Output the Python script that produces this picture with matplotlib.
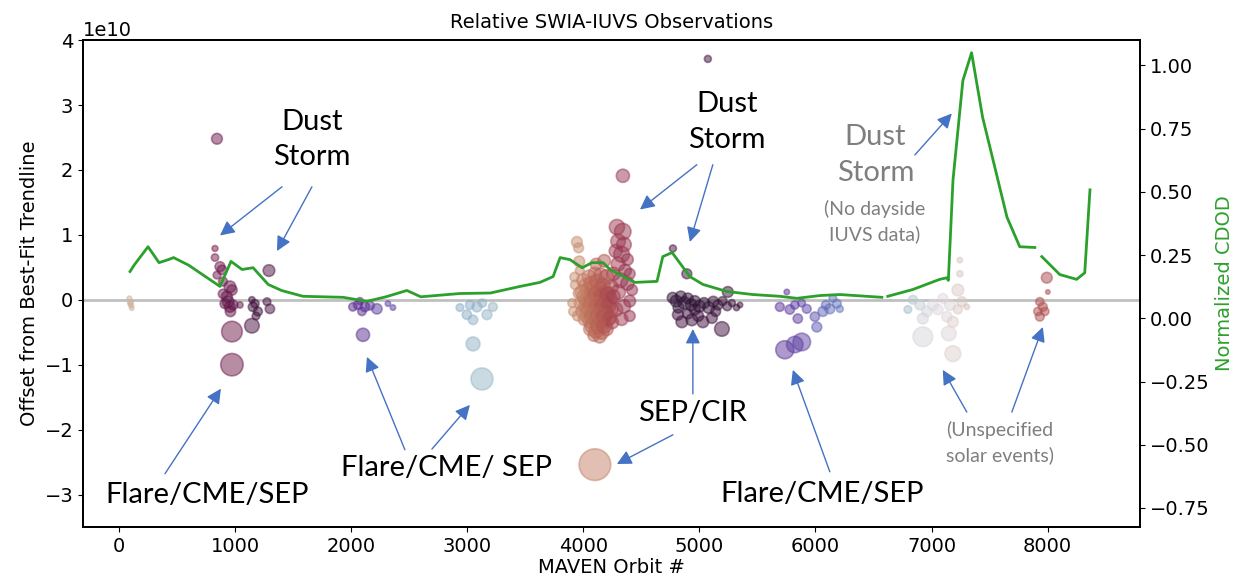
import numpy as np
import matplotlib.pyplot as plt

# normalized column dust optical depth vs orbit (NaN = data gap)
cdod_orbit = [95, 130, 250, 345, 425, 470, 600, 870, 965, 1060, 1155, 1285, 1400, 1585,
              1930, 2135, 2300, 2480, 2600, 2937, 3200, 3455, 3626, 3740, 3800, 3885,
              3990, 4075, 4170, 4230, 4445, 4635, 4685, 4765, 4918, 5030, 5237, 5460,
              5693, 5840, 6040, 6210, 6572, 6600, 6623, 6840, 7070, 7130, 7145, 7185,
              7270, 7345, 7440, 7530, 7650, 7760, 7890, 7920, 7950, 8105, 8250, 8320, 8365]
cdod_norm = [0.185, 0.21, 0.283, 0.22, 0.232, 0.24, 0.21, 0.126, 0.225, 0.193, 0.2, 0.134,
             0.11, 0.087, 0.083, 0.067, 0.085, 0.11, 0.085, 0.098, 0.1, 0.126, 0.142, 0.165,
             0.24, 0.232, 0.2, 0.22, 0.22, 0.193, 0.142, 0.146, 0.244, 0.26, 0.165, 0.134,
             0.106, 0.094, 0.087, 0.079, 0.09, 0.094, 0.083, np.nan, 0.087, 0.114, 0.154,
             0.16, 0.15, 0.547, 0.94, 1.05, 0.795, 0.626, 0.40, 0.283, 0.28, np.nan, 0.244,
             0.173, 0.154, 0.18, 0.508]

# SWIA-IUVS observations: orbit, offset (1e10), marker area, season (colormap position)
obs_orbit = [90, 100, 105, 110, 95,
             844, 827, 827, 870, 887, 844, 896, 956, 973, 896, 930, 940, 956, 913, 982, 960, 1042, 973, 973,
             1154, 1171, 1197, 1145, 1180, 1275, 1300, 1145, 1292,
             2015, 2058, 2093, 2119, 2162, 2222, 2075, 2317, 2360, 2102,
             2937, 2997, 3050, 3084, 3170, 3221, 3023, 3130, 3050, 3127,
             3945, 3960, 3965, 3925, 3930, 3905, 3915, 4341,
             4290, 4340, 4300, 4350, 4280, 4330, 4380, 4300, 4360, 4400, 4260, 4320, 4380, 4420,
             4240, 4300, 4400, 4350, 4280, 4400, 4330,
             4000, 4050, 4100, 4150, 4200, 3990, 4040, 4090, 4140, 4190,
             3980, 4030, 4080, 4130, 4180, 4230, 3990, 4040, 4090, 4140, 4190, 4240,
             4010, 4060, 4110, 4160, 4210, 4060, 4110, 4160, 4200, 4090, 4140,
             3970, 4110, 4180,
             4020, 4070, 4120, 4170, 4010, 4060, 4110, 4160, 4210, 4020, 4070, 4120, 4170, 4220,
             4030, 4080, 4130, 4180, 4230, 4080, 4130, 4180, 3960, 3950, 4260, 4250,
             4100,
             4772, 4892, 5245, 5073,
             4770, 4800, 4840, 4870, 4900, 4930, 4960, 5000, 5040, 5080, 5120, 5160, 5200, 5240,
             5280, 5320, 5350, 4820, 4960, 5140,
             4815, 4849, 4935, 5030, 5108, 5194, 4900, 4990,
             5753, 5693, 5779, 5848, 5822, 5925, 5995, 6012, 6064, 6124, 6184, 6150, 6210,
             5736, 5822, 5882, 6090, 5880,
             6796, 6840, 6900, 6960, 6925, 7012, 7055, 7098, 7132, 7158, 7184, 7227, 7261,
             7244, 7244, 7227, 6925, 7149, 7184, 7304,
             7993, 8002, 7933, 7959, 7916, 7933, 7976]
obs_offset = [0.02, -0.04, -0.09, -0.13, -0.06,
              2.48, 0.79, 0.65, 0.51, 0.46, 0.38, 0.28, 0.20, 0.15, 0.09, 0.05, -0.03, -0.11, -0.06,
              -0.08, -0.18, -0.08, -0.49, -1.00,
              -0.11, -0.06, -0.18, 0.00, -0.25, -0.03, -0.14, -0.40, 0.45,
              -0.11, -0.08, -0.18, -0.11, -0.09, -0.14, -0.02, -0.06, -0.12, -0.54,
              -0.12, -0.23, -0.31, -0.11, -0.23, -0.11, -0.08, -0.05, -0.68, -1.22,
              0.89, 0.80, 0.59, 0.35, 0.23, -0.05, -0.18, 1.91,
              1.12, 1.05, 0.90, 0.85, 0.75, 0.70, 0.62, 0.55, 0.45, 0.40, 0.40, 0.30, 0.25, 0.15,
              0.20, 0.12, -0.02, -0.10, -0.15, -0.25, -0.30,
              0.30, 0.35, 0.40, 0.38, 0.35, 0.12, 0.15, 0.18, 0.15, 0.10,
              -0.05, 0.00, -0.02, 0.02, -0.05, 0.00, -0.18, -0.15, -0.18, -0.15, -0.20, -0.15,
              -0.30, -0.32, -0.30, -0.32, -0.30, -0.45, -0.48, -0.50, -0.45, -0.55, -0.57,
              0.45, 0.55, 0.60,
              0.22, 0.25, 0.28, 0.22, 0.05, 0.07, 0.08, 0.05, 0.08, -0.10, -0.08, -0.10, -0.10, -0.08,
              -0.24, -0.25, -0.24, -0.26, -0.28, -0.40, -0.40, -0.40, 0.10, -0.25, 0.05, -0.35,
              -2.54,
              0.79, 0.40, 0.12, 3.71,
              0.03, -0.02, 0.05, -0.05, 0.02, -0.08, -0.02, -0.10, -0.05, -0.12, -0.03, -0.08,
              -0.02, -0.10, -0.05, -0.12, -0.08, -0.12, -0.15, -0.18,
              -0.23, -0.34, -0.31, -0.34, -0.28, -0.45, -0.22, -0.25,
              0.12, -0.11, -0.15, -0.29, -0.08, -0.14, -0.26, -0.42, -0.18, -0.14, -0.06, 0.02, -0.14,
              -0.77, -0.69, -0.65, -0.08, -0.05,
              -0.15, 0.00, -0.08, -0.18, -0.29, -0.08, -0.15, 0.02, -0.26, -0.08, -0.34, 0.15, -0.03,
              0.40, 0.61, -0.15, -0.57, -0.52, -0.83, -0.11,
              0.34, 0.12, -0.03, -0.11, -0.18, -0.26, -0.18]
obs_size = [12, 15, 12, 10, 10,
            60, 18, 28, 50, 45, 30, 40, 70, 55, 45, 60, 70, 60, 50, 50, 55, 20, 220, 260,
            45, 35, 40, 20, 30, 30, 45, 110, 70,
            35, 40, 35, 45, 40, 55, 25, 15, 15, 90,
            30, 45, 45, 50, 50, 40, 40, 35, 100, 250,
            60, 50, 60, 45, 45, 40, 45, 90,
            120, 140, 110, 110, 90, 130, 70, 100, 80, 60, 90, 110, 90, 60,
            100, 110, 70, 90, 100, 60, 80,
            90, 100, 90, 100, 110, 100, 110, 120, 120, 120,
            90, 120, 130, 130, 120, 110, 80, 120, 130, 130, 120, 100,
            80, 110, 120, 110, 100, 90, 110, 100, 90, 70, 80,
            40, 70, 80,
            100, 110, 110, 110, 110, 120, 130, 130, 120, 110, 130, 130, 130, 110,
            110, 130, 130, 120, 90, 120, 120, 110, 60, 50, 90, 80,
            520,
            25, 50, 60, 25,
            60, 70, 60, 80, 60, 70, 60, 70, 60, 70, 60, 50, 40, 40, 25, 20, 15, 60, 60, 50,
            60, 70, 70, 70, 60, 110, 50, 60,
            15, 40, 45, 45, 35, 40, 45, 50, 50, 50, 40, 30, 25, 170, 140, 160, 40, 30,
            30, 40, 50, 55, 60, 60, 55, 50, 55, 60, 60, 70, 50, 20, 15, 40, 200, 110, 130, 15,
            60, 10, 35, 40, 35, 40, 35]
obs_season = [0.90, 0.90, 0.90, 0.90, 0.90,
              0.62, 0.63, 0.63, 0.62, 0.61, 0.62, 0.61, 0.61, 0.61, 0.61, 0.60, 0.60, 0.60, 0.60,
              0.60, 0.60, 0.60, 0.62, 0.62,
              0.54, 0.54, 0.53, 0.54, 0.53, 0.55, 0.56, 0.56, 0.57,
              0.38, 0.38, 0.37, 0.37, 0.36, 0.35, 0.38, 0.34, 0.34, 0.37,
              0.14, 0.14, 0.13, 0.13, 0.12, 0.12, 0.14, 0.13, 0.13, 0.12,
              0.84, 0.84, 0.83, 0.84, 0.84, 0.84, 0.84, 0.69,
              0.70, 0.69, 0.70, 0.69, 0.70, 0.69, 0.68, 0.70, 0.68, 0.68, 0.71, 0.69, 0.68, 0.68,
              0.72, 0.70, 0.68, 0.69, 0.71, 0.68, 0.70,
              0.82, 0.80, 0.78, 0.76, 0.74, 0.82, 0.80, 0.78, 0.76, 0.74,
              0.83, 0.81, 0.79, 0.77, 0.75, 0.73, 0.82, 0.80, 0.78, 0.76, 0.74, 0.72,
              0.81, 0.80, 0.78, 0.76, 0.74, 0.80, 0.78, 0.76, 0.75, 0.79, 0.77,
              0.83, 0.77, 0.75,
              0.81, 0.79, 0.77, 0.75, 0.81, 0.79, 0.77, 0.75, 0.73, 0.81, 0.79, 0.77, 0.75, 0.73,
              0.81, 0.79, 0.77, 0.75, 0.73, 0.79, 0.77, 0.75, 0.83, 0.83, 0.71, 0.72,
              0.82,
              0.55, 0.53, 0.52, 0.55,
              0.50, 0.50, 0.50, 0.50, 0.50, 0.50, 0.50, 0.51, 0.51, 0.51, 0.51, 0.52, 0.52, 0.52,
              0.52, 0.52, 0.52, 0.50, 0.51, 0.51,
              0.54, 0.54, 0.54, 0.54, 0.54, 0.55, 0.53, 0.53,
              0.36, 0.36, 0.35, 0.35, 0.35, 0.33, 0.31, 0.30, 0.28, 0.26, 0.25, 0.25, 0.24,
              0.36, 0.34, 0.34, 0.27, 0.34,
              0.10, 0.08, 0.06, 0.04, 0.04, 0.02, 0.01, 0.99, 0.98, 0.97, 0.96, 0.95, 0.94,
              0.94, 0.94, 0.95, 0.03, 0.97, 0.96, 0.93,
              0.73, 0.73, 0.74, 0.74, 0.74, 0.74, 0.74]

ann_font = 'Lato'
arrow_kw = dict(arrowstyle='-|>', color='#4472C4', lw=1, mutation_scale=22, shrinkA=0, shrinkB=0)

fig = plt.figure(figsize=(12.39, 5.81), dpi=100)
ax = fig.add_axes([0.067, 0.093, 0.853, 0.838])

ax.axhline(0, color='gray', alpha=0.5, lw=2, zorder=1)
ax.scatter(obs_orbit, np.array(obs_offset) * 1e10, s=obs_size, c=obs_season, cmap='twilight',
           vmin=0, vmax=1, alpha=0.5, linewidths=1.2, zorder=2)

ax.set_xlim(-310, 8795)
ax.set_ylim(-3.5e10, 4e10)
ax.set_xticks(np.arange(0, 8001, 1000))
ax.set_yticks(np.arange(-3e10, 4.1e10, 1e10))
ax.set_xlabel('MAVEN Orbit #', fontsize=14, labelpad=2)
ax.set_ylabel('Offset from Best-Fit Trendline', fontsize=14)
ax.set_title('Relative SWIA-IUVS Observations', fontsize=14, pad=9)
ax.tick_params(labelsize=14)
ax.yaxis.get_offset_text().set_fontsize(14)

ax2 = ax.twinx()
ax2.plot(cdod_orbit, cdod_norm, color='#2ca02c', lw=2)
ax2.set_ylim(-0.825, 1.10)
ax2.set_yticks(np.arange(-0.75, 1.01, 0.25))
ax2.set_ylabel('Normalized CDOD', color='#2ca02c', fontsize=14)
ax2.tick_params(labelsize=14)

for a in (ax, ax2):
    for sp in a.spines.values():
        sp.set_linewidth(1.3)

# event labels
big = dict(fontsize=21, family=ann_font, ha='center', va='center', linespacing=1.45)
small = dict(fontsize=14, family=ann_font, ha='center', va='center', linespacing=1.5,
             color='#7f7f7f')
ax.text(1662, 2.47e10, 'Dust\nStorm', color='black', **big)
ax.annotate('', xy=(870, 0.99e10), xytext=(1404, 1.74e10), arrowprops=arrow_kw)
ax.annotate('', xy=(1361, 0.75e10), xytext=(1662, 1.74e10), arrowprops=arrow_kw)

ax.text(758, -3.0e10, 'Flare/CME/SEP', color='black', **big)
ax.annotate('', xy=(878, -1.37e10), xytext=(396, -2.68e10), arrowprops=arrow_kw)

ax.text(2825, -2.59e10, 'Flare/CME/ SEP', color='black', **big)
ax.annotate('', xy=(2136, -0.88e10), xytext=(2463, -2.31e10), arrowprops=arrow_kw)
ax.annotate('', xy=(3023, -1.62e10), xytext=(2696, -2.30e10), arrowprops=arrow_kw)

ax.text(5237, 2.74e10, 'Dust\nStorm', color='black', **big)
ax.annotate('', xy=(4488, 1.39e10), xytext=(4978, 2.08e10), arrowprops=arrow_kw)
ax.annotate('', xy=(4918, 0.89e10), xytext=(5116, 2.08e10), arrowprops=arrow_kw)

ax.text(4944, -1.74e10, 'SEP/CIR', color='black', **big)
ax.annotate('', xy=(4944, -0.45e10), xytext=(4944, -1.45e10), arrowprops=arrow_kw)
ax.annotate('', xy=(4289, -2.53e10), xytext=(4772, -2.08e10), arrowprops=arrow_kw)

ax.text(6055, -2.99e10, 'Flare/CME/SEP', color='black', **big)
ax.annotate('', xy=(5805, -1.08e10), xytext=(6124, -2.65e10), arrowprops=arrow_kw)

ax.text(6516, 2.23e10, 'Dust\nStorm', color='#7f7f7f', **{k: v for k, v in big.items()})
ax.text(6512, 1.20e10, '(No dayside\nIUVS data)', **small)
ax.annotate('', xy=(7175, 2.87e10), xytext=(6856, 2.23e10), arrowprops=arrow_kw)

ax.text(7588, -2.2e10, '(Unspecified\nsolar events)', **small)
ax.annotate('', xy=(7097, -1.08e10), xytext=(7304, -1.73e10), arrowprops=arrow_kw)
ax.annotate('', xy=(7959, -0.42e10), xytext=(7692, -1.73e10), arrowprops=arrow_kw)

fig.savefig('out.png', dpi=100)
